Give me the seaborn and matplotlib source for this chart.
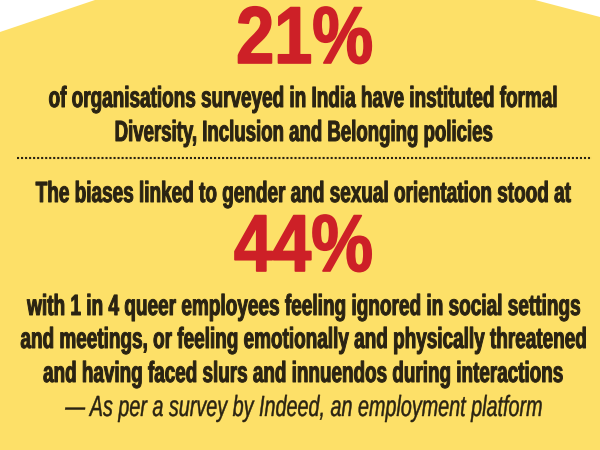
import matplotlib
matplotlib.use("Agg")
import matplotlib.pyplot as plt
import matplotlib.patheffects as pe
from matplotlib.transforms import Affine2D
import seaborn as sns

big_values = ["21%", "44%"]
top_lines = ["of organisations surveyed in India have instituted formal",
             "Diversity, Inclusion and Belonging policies"]
lead_line = "The biases linked to gender and sexual orientation stood at"
bottom_lines = ["with 1 in 4 queer employees feeling ignored in social settings",
                "and meetings, or feeling emotionally and physically threatened",
                "and having faced slurs and innuendos during interactions"]
source_line = "\u2014 As per a survey by Indeed, an employment platform"

YELLOW = "#fde068"
RED = "#cd2027"
INK = "#2a2312"


# no condensed face is installed, so the glyphs get stretched upward at draw time
class Tall(pe.AbstractPathEffect):
    def __init__(self, sy, base, stroke, color):
        super().__init__()
        self.sy, self.base, self.stroke, self.color = sy, base, stroke, color

    def draw_path(self, renderer, gc, tpath, affine, rgbFace=None):
        tall = affine + Affine2D().translate(0, -self.base).scale(1, self.sy).translate(0, self.base)
        gc0 = renderer.new_gc()
        gc0.copy_properties(gc)
        gc0.set_linewidth(self.stroke)
        gc0.set_foreground(self.color)
        renderer.draw_path(gc0, tpath, tall, rgbFace)
        gc0.restore()


sns.set_theme(style="white")
plt.rcParams["font.family"] = ["Liberation Sans", "DejaVu Sans"]

fig = plt.figure(figsize=(6, 4.5), dpi=100, facecolor="white")
ax = fig.add_axes([0, 0, 1, 1])
ax.set_xlim(0, 600)
ax.set_ylim(450, 0)
ax.axis("off")

# yellow panel with the two cut corners
ax.fill([0, 95, 535, 600, 600, 0], [32, 0, 0, 17, 450, 450], color=YELLOW, lw=0)


def line(x0, x1, y, s, size=21, color=INK, weight="bold", style="normal", stroke=0.7):
    t = ax.text((x0 + x1) / 2, y, s, color=color, fontsize=size, fontweight=weight,
                fontstyle=style, ha="center", va="baseline")
    w = t.get_window_extent(fig.canvas.get_renderer()).width
    sx = (x1 - x0) / w
    t.set_fontsize(size * sx)
    t.set_path_effects([Tall(1 / sx, 450 - y, stroke, color)])


line(236, 373, 63, big_values[0], size=58, color=RED, stroke=1.2)
line(234, 373, 271, big_values[1], size=58, color=RED, stroke=1.2)

line(48, 557, 107, top_lines[0])
line(114, 492, 141, top_lines[1])
ax.plot([17, 592], [158, 158], color=INK, lw=1.5, ls=(0, (1, 0.93)))
line(36, 571, 202, lead_line)
line(27, 580, 315, bottom_lines[0])
line(20, 586, 348, bottom_lines[1])
line(43, 563, 382, bottom_lines[2])
line(65, 543, 416, source_line, weight="normal", style="italic", stroke=0.3)

fig.savefig("out.png", dpi=100)
